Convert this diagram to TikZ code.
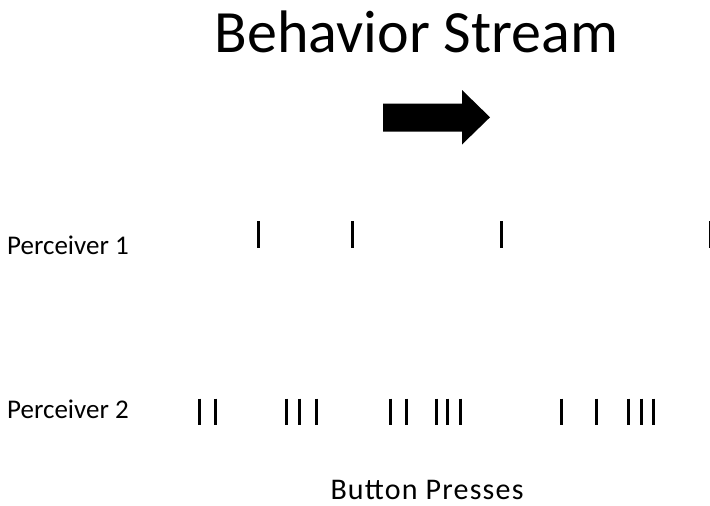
\documentclass[tikz,border=0pt]{standalone}
\usepackage{fontspec}
\setmainfont{Carlito}
\begin{document}
\begin{tikzpicture}[x=1pt,y=-1pt,
  label/.style={inner sep=0pt, anchor=base west},
  tick/.style={line width=3pt, black},
  bigarrow/.style={fill=black, draw=none}]
\useasboundingbox (0,0) rectangle (710,506);
% title
\node[inner sep=0pt, anchor=base] (title) at (416.5,52) {\fontsize{60}{62}\selectfont Behavior Stream};
% direction arrow
\fill[bigarrow] (383,103.5) -- (462,103.5) -- (462,90) -- (490,117.3) -- (462,144.5) -- (462,131.5) -- (383,131.5) -- cycle;
% row labels
\node[label] (p1) at (7,254) {\fontsize{27}{29}\selectfont Perceiver 1};
\node[label] (p2) at (7,418) {\fontsize{27}{29}\selectfont Perceiver 2};
\node[inner sep=0pt, anchor=base] (bp) at (427,499) {\fontsize{30}{32}\selectfont\addfontfeature{LetterSpace=4}Button Presses};
% button presses of perceiver 1
\foreach \x in {258.3,352.3,501.7,710}
  \draw[tick] (\x,221) -- (\x,247.5);
% button presses of perceiver 2
\foreach \x in {199.3,215.7,286,299,316.7,390.7,406,436,447.7,460,561,596,628,641.7,653}
  \draw[tick] (\x,398.5) -- (\x,424.5);
\end{tikzpicture}
\end{document}
